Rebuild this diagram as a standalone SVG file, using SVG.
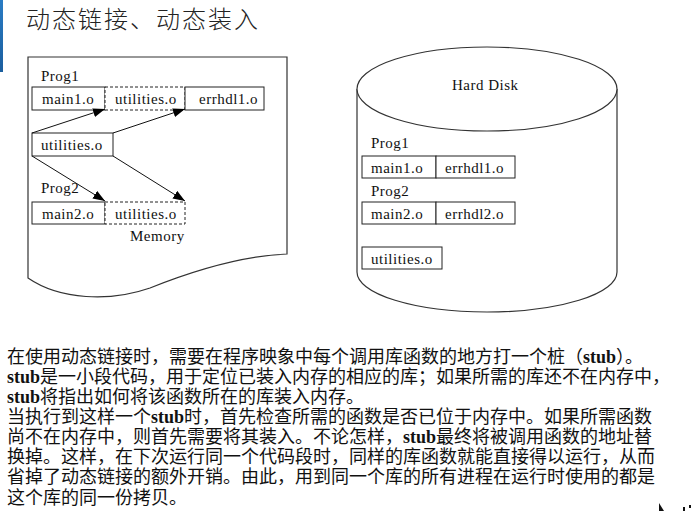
<svg xmlns="http://www.w3.org/2000/svg" width="695" height="511" viewBox="0 0 695 511">
<style>
.lbl{font-family:"Liberation Serif","DejaVu Serif",serif;font-size:15px;fill:#111;letter-spacing:0.5px}
.box{fill:#fff;stroke:#222;stroke-width:1}
.dbox{fill:#fff;stroke:#222;stroke-width:1;stroke-dasharray:3 2}
.shape{fill:#fff;stroke:#333;stroke-width:1.2}
.conn{stroke:#111;stroke-width:1;fill:none}
.body{font-family:"Liberation Serif","Noto Sans CJK SC",serif;font-size:18px;fill:#111}
.stub{font-family:"Liberation Serif",serif;font-weight:bold}
</style>
<defs>
<marker id="ah" markerUnits="userSpaceOnUse" markerWidth="13" markerHeight="10" refX="12" refY="4.5" orient="auto">
<path d="M0,0 L12,4.5 L0,9 z" fill="#000"/>
</marker>
<linearGradient id="blue" x1="0" y1="0" x2="0" y2="1">
<stop offset="0" stop-color="#2a7cc4"/>
<stop offset="1" stop-color="#1b5e9e"/>
</linearGradient>
</defs>
<rect width="695" height="511" fill="#fff"/>
<rect x="0" y="0" width="3" height="72" fill="url(#blue)"/>

<g id="title">
<text x="26" y="28" font-family="'Noto Sans CJK SC',sans-serif" font-size="24" font-weight="300" fill="#222" letter-spacing="2">动态链接、动态装入</text>
</g>

<g id="memory">
<path class="shape" d="M28,57 L287,57 L287,254 C240,256 190,272 150,288 C110,302 60,300 28,278 Z"/>
<text class="lbl" x="130" y="241">Memory</text>
</g>

<g id="mem-prog1">
<text class="lbl" x="41" y="81">Prog1</text>
<g id="mem-main1">
<rect class="box" x="32" y="87" width="73" height="23"/>
<text class="lbl" x="42" y="104">main1.o</text>
</g>
<g id="mem-util1">
<rect class="dbox" x="105" y="87" width="80" height="23"/>
<text class="lbl" x="115" y="104">utilities.o</text>
</g>
<g id="mem-errhdl1">
<rect class="box" x="185" y="87" width="79" height="23"/>
<text class="lbl" x="199" y="104">errhdl1.o</text>
</g>
</g>

<g id="mem-utilities">
<rect class="box" x="32" y="133" width="81" height="23"/>
<text class="lbl" x="41" y="150">utilities.o</text>
</g>

<g id="mem-prog2">
<text class="lbl" x="41" y="193">Prog2</text>
<g id="mem-main2">
<rect class="box" x="32" y="202" width="73" height="22"/>
<text class="lbl" x="42" y="219">main2.o</text>
</g>
<g id="mem-util2">
<rect class="dbox" x="105" y="202" width="80" height="22"/>
<text class="lbl" x="115" y="219">utilities.o</text>
</g>
</g>

<g id="connectors">
<line class="conn" x1="32" y1="133" x2="105" y2="109" marker-end="url(#ah)"/>
<line class="conn" x1="113" y1="133" x2="185" y2="109" marker-end="url(#ah)"/>
<line class="conn" x1="32" y1="156" x2="105" y2="201" marker-end="url(#ah)"/>
<line class="conn" x1="113" y1="156" x2="185" y2="201" marker-end="url(#ah)"/>
</g>

<g id="harddisk">
<path class="shape" d="M357,89 L357,272 A130,40 0 0 0 617,272 L617,89"/>
<ellipse class="shape" cx="487" cy="89" rx="130" ry="42"/>
<text class="lbl" x="452" y="90">Hard Disk</text>
</g>

<g id="disk-prog1">
<text class="lbl" x="371" y="148">Prog1</text>
<g id="disk-main1">
<rect class="box" x="362" y="156" width="74" height="22"/>
<text class="lbl" x="371" y="173">main1.o</text>
</g>
<g id="disk-errhdl1">
<rect class="box" x="436" y="156" width="79" height="22"/>
<text class="lbl" x="445" y="173">errhdl1.o</text>
</g>
</g>

<g id="disk-prog2">
<text class="lbl" x="371" y="196">Prog2</text>
<g id="disk-main2">
<rect class="box" x="362" y="202" width="74" height="22"/>
<text class="lbl" x="371" y="219">main2.o</text>
</g>
<g id="disk-errhdl2">
<rect class="box" x="436" y="202" width="79" height="22"/>
<text class="lbl" x="445" y="219">errhdl2.o</text>
</g>
</g>

<g id="disk-utilities">
<rect class="box" x="362" y="247" width="80" height="22"/>
<text class="lbl" x="371" y="264">utilities.o</text>
</g>

<g id="description">
<text class="body" x="7" y="363">在使用动态链接时，需要在程序映象中每个调用库函数的地方打一个桩（<tspan class="stub">stub</tspan>）。</text>
<text class="body" x="7" y="383"><tspan class="stub">stub</tspan>是一小段代码，用于定位已装入内存的相应的库；如果所需的库还不在内存中，</text>
<text class="body" x="7" y="403"><tspan class="stub">stub</tspan>将指出如何将该函数所在的库装入内存。</text>
<text class="body" x="7" y="423">当执行到这样一个<tspan class="stub">stub</tspan>时，首先检查所需的函数是否已位于内存中。如果所需函数</text>
<text class="body" x="7" y="443">尚不在内存中，则首先需要将其装入。不论怎样，<tspan class="stub">stub</tspan>最终将被调用函数的地址替</text>
<text class="body" x="7" y="463">换掉。这样，在下次运行同一个代码段时，同样的库函数就能直接得以运行，从而</text>
<text class="body" x="7" y="483">省掉了动态链接的额外开销。由此，用到同一个库的所有进程在运行时使用的都是</text>
<text class="body" x="7" y="504">这个库的同一份拷贝。</text>
</g>

<g id="corner-marks" fill="#111">
<path d="M659,503 L659,511 L664,511 Z"/>
<rect x="683" y="507" width="2" height="4"/>
<rect x="689" y="505" width="2" height="3"/>
</g>
</svg>
